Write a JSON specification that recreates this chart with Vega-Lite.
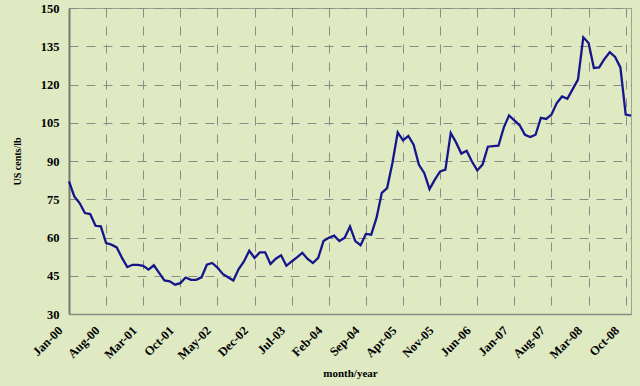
{
 "$schema": "https://vega.github.io/schema/vega-lite/v6.json",
 "width": 562, "height": 306,
 "autosize": {"type": "none"},
 "padding": {"left": 69, "top": 8, "right": 9, "bottom": 72},
 "background": "#dfeac3",
 "config": {"view": {"stroke": "#a0a094", "strokeWidth": 1}, "font": "Liberation Serif"},
 "data": {"values": [
  {"month":"Jan-00","price":82.0},{"month":"Feb-00","price":76.1},{"month":"Mar-00","price":73.5},{"month":"Apr-00","price":69.6},{"month":"May-00","price":69.2},{"month":"Jun-00","price":64.6},{"month":"Jul-00","price":64.4},{"month":"Aug-00","price":57.8},{"month":"Sep-00","price":57.2},{"month":"Oct-00","price":56.1},{"month":"Nov-00","price":52.0},{"month":"Dec-00","price":48.4},
  {"month":"Jan-01","price":49.3},{"month":"Feb-01","price":49.3},{"month":"Mar-01","price":48.9},{"month":"Apr-01","price":47.4},{"month":"May-01","price":49.1},{"month":"Jun-01","price":46.1},{"month":"Jul-01","price":43.2},{"month":"Aug-01","price":42.8},{"month":"Sep-01","price":41.5},{"month":"Oct-01","price":42.1},{"month":"Nov-01","price":44.3},{"month":"Dec-01","price":43.4},
  {"month":"Jan-02","price":43.4},{"month":"Feb-02","price":44.4},{"month":"Mar-02","price":49.3},{"month":"Apr-02","price":50.0},{"month":"May-02","price":48.2},{"month":"Jun-02","price":45.7},{"month":"Jul-02","price":44.4},{"month":"Aug-02","price":43.1},{"month":"Sep-02","price":47.6},{"month":"Oct-02","price":50.6},{"month":"Nov-02","price":54.8},{"month":"Dec-02","price":52.0},
  {"month":"Jan-03","price":54.2},{"month":"Feb-03","price":54.2},{"month":"Mar-03","price":49.6},{"month":"Apr-03","price":51.7},{"month":"May-03","price":53.0},{"month":"Jun-03","price":48.9},{"month":"Jul-03","price":50.6},{"month":"Aug-03","price":52.2},{"month":"Sep-03","price":54.0},{"month":"Oct-03","price":51.6},{"month":"Nov-03","price":50.0},{"month":"Dec-03","price":52.0},
  {"month":"Jan-04","price":58.6},{"month":"Feb-04","price":59.9},{"month":"Mar-04","price":60.7},{"month":"Apr-04","price":58.6},{"month":"May-04","price":59.9},{"month":"Jun-04","price":64.3},{"month":"Jul-04","price":58.6},{"month":"Aug-04","price":57.0},{"month":"Sep-04","price":61.4},{"month":"Oct-04","price":61.1},{"month":"Nov-04","price":67.7},{"month":"Dec-04","price":77.5},
  {"month":"Jan-05","price":79.4},{"month":"Feb-05","price":89.2},{"month":"Mar-05","price":101.2},{"month":"Apr-05","price":98.1},{"month":"May-05","price":99.8},{"month":"Jun-05","price":96.4},{"month":"Jul-05","price":88.5},{"month":"Aug-05","price":85.3},{"month":"Sep-05","price":79.0},{"month":"Oct-05","price":82.7},{"month":"Nov-05","price":85.9},{"month":"Dec-05","price":86.6},
  {"month":"Jan-06","price":101.0},{"month":"Feb-06","price":97.3},{"month":"Mar-06","price":92.9},{"month":"Apr-06","price":94.0},{"month":"May-06","price":89.8},{"month":"Jun-06","price":86.3},{"month":"Jul-06","price":88.6},{"month":"Aug-06","price":95.6},{"month":"Sep-06","price":95.8},{"month":"Oct-06","price":96.0},{"month":"Nov-06","price":103.1},{"month":"Dec-06","price":107.9},
  {"month":"Jan-07","price":105.9},{"month":"Feb-07","price":104.0},{"month":"Mar-07","price":100.3},{"month":"Apr-07","price":99.4},{"month":"May-07","price":100.3},{"month":"Jun-07","price":106.9},{"month":"Jul-07","price":106.5},{"month":"Aug-07","price":108.2},{"month":"Sep-07","price":112.7},{"month":"Oct-07","price":115.3},{"month":"Nov-07","price":114.4},{"month":"Dec-07","price":118.2},
  {"month":"Jan-08","price":121.9},{"month":"Feb-08","price":138.5},{"month":"Mar-08","price":136.3},{"month":"Apr-08","price":126.5},{"month":"May-08","price":126.7},{"month":"Jun-08","price":130.0},{"month":"Jul-08","price":132.7},{"month":"Aug-08","price":130.8},{"month":"Sep-08","price":126.7},{"month":"Oct-08","price":108.2},{"month":"Nov-08","price":107.8}
 ]},
 "mark": {"type": "line", "color": "#16168c", "strokeWidth": 2.3},
 "encoding": {
  "x": {
   "field": "month", "type": "ordinal", "sort": null,
   "scale": {"type": "point", "padding": 0},
   "axis": {
    "values": ["Jan-00","Aug-00","Mar-01","Oct-01","May-02","Dec-02","Jul-03","Feb-04","Sep-04","Apr-05","Nov-05","Jun-06","Jan-07","Aug-07","Mar-08","Oct-08"],
    "labelAngle": -45, "labelAlign": "right", "labelBaseline": "middle", "labelPadding": 14, "labelOffset": -9,
    "title": "month/year", "titleFont": "Liberation Serif", "titleFontSize": 11, "titleFontWeight": "bold", "titleColor": "#000", "titlePadding": 6,
    "grid": true, "gridDash": [9, 9], "gridColor": "#8c8c84", "gridWidth": 1,
    "ticks": false, "domainColor": "#8c8c84", "domainWidth": 1.5,
    "labelFont": "Liberation Serif", "labelFontWeight": "bold", "labelFontSize": 12.5, "labelColor": "#000"
   }
  },
  "y": {
   "field": "price", "type": "quantitative",
   "scale": {"domain": [30, 150], "nice": false, "zero": false},
   "axis": {
    "values": [30,45,60,75,90,105,120,135,150],
    "title": "US cents/lb", "titleFont": "Liberation Serif", "titleFontSize": 10, "titleFontWeight": "bold", "titleColor": "#000", "titlePadding": 18,
    "grid": true, "gridDash": [9, 8], "gridColor": "#8c8c84", "gridWidth": 1,
    "ticks": false, "domainColor": "#7a7a72", "domainWidth": 2, "labelPadding": 10,
    "labelFont": "Liberation Serif", "labelFontWeight": "bold", "labelFontSize": 12.5, "labelColor": "#000"
   }
  }
 }
}
